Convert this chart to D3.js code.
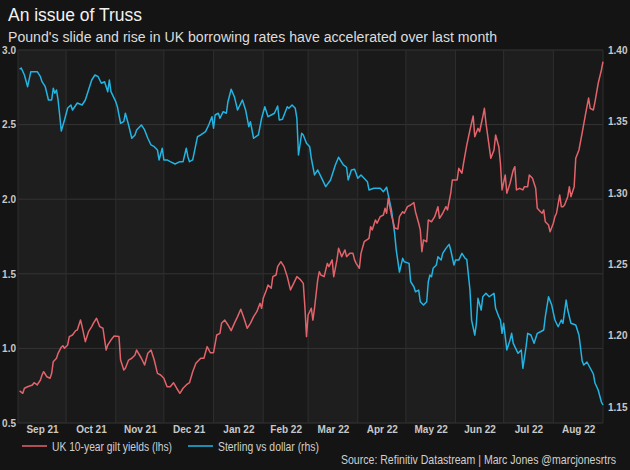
<!DOCTYPE html>
<html><head><meta charset="utf-8">
<script src="https://cdn.jsdelivr.net/npm/d3@7"></script>
<style>
html,body{margin:0;padding:0;background:#141414;}
svg{display:block;font-family:"Liberation Sans",Arial,sans-serif;}
</style></head>
<body><svg id="c" width="630" height="470"></svg>
<script>
const title = "An issue of Truss";
const subtitle = "Pound's slide and rise in UK borrowing rates have accelerated over last month";
const source = "Source: Refinitiv Datastream | Marc Jones @marcjonesrtrs";
const seriesNames = ["UK 10-year gilt yields (lhs)", "Sterling vs dollar (rhs)"];
const leftTicks = [0.5, 1.0, 1.5, 2.0, 2.5, 3.0];
const rightTicks = [1.15, 1.20, 1.25, 1.30, 1.35, 1.40];
const monthStarts = ["2021-09-01","2021-10-01","2021-11-01","2021-12-01","2022-01-01","2022-02-01","2022-03-01","2022-04-01","2022-05-01","2022-06-01","2022-07-01","2022-08-01","2022-09-01"];

const giltDates = ["2021-09-02","2021-09-04","2021-09-05","2021-09-07","2021-09-10","2021-09-11","2021-09-13","2021-09-15","2021-09-16","2021-09-17","2021-09-19","2021-09-21","2021-09-22","2021-09-23","2021-09-25","2021-09-26","2021-09-28","2021-09-29","2021-09-30",
"2021-10-02","2021-10-03","2021-10-05","2021-10-07","2021-10-08","2021-10-10","2021-10-11","2021-10-13","2021-10-15","2021-10-17","2021-10-18","2021-10-20","2021-10-22","2021-10-24","2021-10-26","2021-10-27","2021-10-29","2021-10-31",
"2021-11-03","2021-11-04","2021-11-06","2021-11-07","2021-11-09","2021-11-11","2021-11-13","2021-11-14","2021-11-17","2021-11-19","2021-11-21","2021-11-23","2021-11-25","2021-11-27","2021-11-29",
"2021-12-01","2021-12-03","2021-12-05","2021-12-07","2021-12-09","2021-12-11","2021-12-13","2021-12-15","2021-12-17","2021-12-19","2021-12-21","2021-12-24","2021-12-26","2021-12-28","2021-12-30",
"2022-01-01","2022-01-03","2022-01-05","2022-01-06","2022-01-08","2022-01-10","2022-01-12","2022-01-14","2022-01-16","2022-01-18","2022-01-20","2022-01-22","2022-01-24","2022-01-26","2022-01-28","2022-01-30","2022-01-31",
"2022-02-01","2022-02-03","2022-02-04","2022-02-06","2022-02-07","2022-02-09","2022-02-10","2022-02-12","2022-02-14","2022-02-16","2022-02-18","2022-02-20","2022-02-22","2022-02-24","2022-02-26","2022-02-27","2022-02-28",
"2022-03-01","2022-03-03","2022-03-04","2022-03-05","2022-03-07","2022-03-08","2022-03-09","2022-03-11","2022-03-13","2022-03-14","2022-03-16","2022-03-17","2022-03-19","2022-03-20","2022-03-22","2022-03-24","2022-03-25","2022-03-27","2022-03-29","2022-03-30","2022-03-31",
"2022-04-02","2022-04-03","2022-04-05","2022-04-08","2022-04-09","2022-04-10","2022-04-12","2022-04-13","2022-04-15","2022-04-17","2022-04-18","2022-04-19","2022-04-20","2022-04-22","2022-04-24","2022-04-26","2022-04-27","2022-04-29","2022-04-30",
"2022-05-02","2022-05-04","2022-05-06","2022-05-07","2022-05-09","2022-05-10","2022-05-11","2022-05-12","2022-05-14","2022-05-15","2022-05-17","2022-05-19","2022-05-21","2022-05-22","2022-05-24","2022-05-26","2022-05-27","2022-05-29","2022-05-30",
"2022-06-02","2022-06-03","2022-06-05","2022-06-06","2022-06-08","2022-06-10","2022-06-12","2022-06-13","2022-06-15","2022-06-16","2022-06-18","2022-06-19","2022-06-20","2022-06-22","2022-06-23","2022-06-25","2022-06-26","2022-06-28","2022-06-29","2022-06-30",
"2022-07-02","2022-07-03","2022-07-05","2022-07-07","2022-07-08","2022-07-09","2022-07-11","2022-07-13","2022-07-14","2022-07-16","2022-07-17","2022-07-19","2022-07-21","2022-07-22","2022-07-24","2022-07-25","2022-07-26","2022-07-27","2022-07-29","2022-07-30",
"2022-08-01","2022-08-02","2022-08-03","2022-08-05","2022-08-06","2022-08-07","2022-08-08","2022-08-10","2022-08-11","2022-08-12","2022-08-14","2022-08-15","2022-08-17","2022-08-19","2022-08-21","2022-08-23","2022-08-24","2022-08-26","2022-08-27","2022-08-29","2022-08-31","2022-09-01"];
const giltValues = [0.715,0.699,0.733,0.743,0.755,0.770,0.755,0.788,0.822,0.844,0.810,0.800,0.833,0.911,0.934,0.967,1.008,1.018,1.001,
1.023,1.079,1.090,1.119,1.123,1.190,1.146,1.045,1.112,1.146,1.168,1.202,1.146,1.135,0.989,1.023,1.056,1.083,
1.079,0.922,0.855,0.867,0.922,0.934,0.956,0.989,0.934,0.889,0.967,0.989,0.922,0.833,0.822,
0.800,0.743,0.743,0.770,0.733,0.699,0.733,0.755,0.770,0.844,0.900,0.934,0.934,1.012,0.971,
0.971,1.090,1.101,1.168,1.190,1.157,1.119,1.168,1.213,1.262,1.202,1.135,1.168,1.213,1.246,1.302,1.269,
1.336,1.392,1.425,1.403,1.481,1.492,1.548,1.581,1.548,1.481,1.392,1.436,1.481,1.463,1.436,1.280,1.079,
1.224,1.269,1.190,1.269,1.459,1.514,1.492,1.481,1.570,1.548,1.593,1.481,1.593,1.671,1.615,1.660,1.615,1.637,1.637,1.593,1.570,
1.537,1.637,1.715,1.738,1.816,1.794,1.861,1.839,1.883,1.894,1.939,1.906,2.006,1.894,1.807,1.800,1.883,1.916,1.906,
1.950,1.961,1.977,1.916,1.839,1.794,1.648,1.727,1.715,1.861,1.849,1.883,1.950,1.872,1.906,1.950,1.928,2.040,2.129,
2.129,2.207,2.174,2.241,2.363,2.464,2.558,2.419,2.475,2.452,2.553,2.609,2.509,2.352,2.274,2.330,2.430,2.352,2.241,2.062,
2.162,2.040,2.107,2.196,2.218,2.062,2.073,2.062,2.084,2.084,2.162,2.140,2.073,1.939,1.916,1.906,1.928,1.849,1.827,1.782,
1.839,1.883,1.906,2.028,1.950,1.950,1.961,2.017,2.084,2.017,2.084,2.274,2.330,2.444,2.564,2.678,2.609,2.598,2.653,2.777,2.866,2.922];

const gbpDates = ["2021-09-02","2021-09-03","2021-09-05","2021-09-07","2021-09-09","2021-09-13","2021-09-15","2021-09-16","2021-09-18","2021-09-19","2021-09-20","2021-09-22","2021-09-23","2021-09-24","2021-09-25","2021-09-26","2021-09-27","2021-09-28","2021-09-30",
"2021-10-02","2021-10-04","2021-10-05","2021-10-08","2021-10-11","2021-10-13","2021-10-15","2021-10-17","2021-10-19","2021-10-21","2021-10-23","2021-10-25","2021-10-27","2021-10-28","2021-10-29",
"2021-11-01","2021-11-02","2021-11-04","2021-11-06","2021-11-07","2021-11-09","2021-11-11","2021-11-13","2021-11-14","2021-11-17","2021-11-19","2021-11-21","2021-11-23","2021-11-25","2021-11-27","2021-11-28","2021-11-30",
"2021-12-01","2021-12-03","2021-12-05","2021-12-08","2021-12-11","2021-12-13","2021-12-15","2021-12-16","2021-12-17","2021-12-19","2021-12-22","2021-12-24","2021-12-27","2021-12-29","2021-12-31",
"2022-01-01","2022-01-02","2022-01-04","2022-01-05","2022-01-07","2022-01-09","2022-01-10","2022-01-12","2022-01-14","2022-01-16","2022-01-19","2022-01-21","2022-01-23","2022-01-24","2022-01-26","2022-01-29","2022-01-31",
"2022-02-02","2022-02-04","2022-02-06","2022-02-08","2022-02-10","2022-02-11","2022-02-13","2022-02-16","2022-02-17","2022-02-19","2022-02-21","2022-02-22","2022-02-23","2022-02-25","2022-02-26","2022-02-28",
"2022-03-02","2022-03-03","2022-03-05","2022-03-07","2022-03-09","2022-03-12","2022-03-15","2022-03-17","2022-03-18","2022-03-20","2022-03-23","2022-03-25","2022-03-26","2022-03-28","2022-03-30",
"2022-04-01","2022-04-03","2022-04-07","2022-04-08","2022-04-11","2022-04-15","2022-04-17","2022-04-19","2022-04-20","2022-04-22","2022-04-24","2022-04-25","2022-04-27","2022-04-29","2022-04-30",
"2022-05-03","2022-05-04","2022-05-06","2022-05-07","2022-05-09","2022-05-10","2022-05-12","2022-05-14","2022-05-15","2022-05-16","2022-05-17","2022-05-18","2022-05-20","2022-05-21","2022-05-23","2022-05-24","2022-05-26","2022-05-28","2022-05-29","2022-05-31",
"2022-06-01","2022-06-03","2022-06-05","2022-06-07","2022-06-08","2022-06-10","2022-06-11","2022-06-13","2022-06-14","2022-06-15","2022-06-17","2022-06-18","2022-06-20","2022-06-22","2022-06-25","2022-06-26","2022-06-28","2022-06-29","2022-06-30",
"2022-07-01","2022-07-03","2022-07-05","2022-07-06","2022-07-07","2022-07-10","2022-07-12","2022-07-13","2022-07-15","2022-07-16","2022-07-18","2022-07-20","2022-07-22","2022-07-24","2022-07-26","2022-07-27","2022-07-29","2022-07-31",
"2022-08-02","2022-08-04","2022-08-06","2022-08-07","2022-08-09","2022-08-10","2022-08-12","2022-08-15","2022-08-17","2022-08-19","2022-08-20","2022-08-22","2022-08-24","2022-08-26","2022-08-27","2022-08-29","2022-08-30","2022-08-31","2022-09-01"];
const gbpValues = [1.3865,1.3874,1.3825,1.3743,1.3848,1.3848,1.3813,1.3778,1.3743,1.3697,1.3650,1.3650,1.3732,1.3697,1.3720,1.3650,1.3545,1.3433,1.3510,
1.3594,1.3615,1.3580,1.3629,1.3615,1.3650,1.3720,1.3790,1.3825,1.3813,1.3767,1.3778,1.3708,1.3790,1.3708,
1.3638,1.3603,1.3487,1.3498,1.3557,1.3475,1.3382,1.3405,1.3440,1.3475,1.3440,1.3382,1.3335,1.3323,1.3300,1.3230,1.3312,
1.3230,1.3230,1.3218,1.3202,1.3218,1.3218,1.3312,1.3253,1.3218,1.3230,1.3393,1.3405,1.3428,1.3475,1.3533,
1.3452,1.3545,1.3557,1.3522,1.3568,1.3557,1.3638,1.3725,1.3673,1.3580,1.3650,1.3580,1.3463,1.3498,1.3382,1.3405,1.3522,
1.3603,1.3533,1.3545,1.3557,1.3608,1.3510,1.3515,1.3603,1.3592,1.3615,1.3592,1.3522,1.3265,1.3417,1.3405,1.3347,
1.3323,1.3242,1.3125,1.3160,1.3113,1.3043,1.3090,1.3160,1.3195,1.3249,1.3195,1.3179,1.3090,1.3160,1.3165,
1.3102,1.3125,1.3078,1.3020,1.3032,1.3032,1.3008,1.3039,1.2985,1.2880,1.2716,1.2599,1.2445,1.2541,1.2517,
1.2506,1.2377,1.2342,1.2307,1.2319,1.2237,1.2214,1.2237,1.2377,1.2424,1.2412,1.2471,1.2494,1.2552,1.2529,1.2576,1.2611,1.2639,1.2599,1.2494,
1.2529,1.2529,1.2576,1.2541,1.2534,1.2319,1.2109,1.2004,1.2086,1.2261,1.2179,1.2272,1.2296,1.2272,1.2296,1.2191,1.2132,1.2109,1.2016,
1.2086,1.1899,1.1969,1.2016,1.1946,1.1876,1.1899,1.1771,1.1922,1.2016,1.2004,1.1946,1.2016,1.2027,1.2039,1.2132,1.2272,1.2214,
1.2109,1.2062,1.2109,1.2086,1.2249,1.2179,1.2086,1.2074,1.2004,1.1822,1.1794,1.1815,1.1773,1.1731,1.1668,1.1619,1.1577,1.1535,1.1514];

const colors = {gilt: "#e3636b", gbp: "#22b4e2"};
const parse = d3.timeParse("%Y-%m-%d");
const svg = d3.select("#c");
const L = 18, R = 603, T = 50, B = 423;

const x = d3.scaleTime().domain([parse(monthStarts[0]), parse(monthStarts[monthStarts.length-1])]).range([L, R]);
const yL = d3.scaleLinear().domain([0.5, 3.0]).range([B, T]);
const yR = d3.scaleLinear().domain([1.15, 1.40]).range([407, T]);

// month bands
const months = monthStarts.map(parse);
svg.append("g").selectAll("rect").data(months.slice(0, -1)).join("rect")
  .attr("x", d => x(d)).attr("y", T)
  .attr("width", (d, i) => x(months[i+1]) - x(d)).attr("height", B - T)
  .attr("fill", (d, i) => i % 2 === 0 ? "#1e1e1e" : "#191919");

// horizontal grid
svg.append("g").selectAll("line").data(leftTicks).join("line")
  .attr("x1", L).attr("x2", R).attr("y1", d => yL(d)).attr("y2", d => yL(d))
  .attr("stroke", "#343434").attr("stroke-width", 1);
// vertical grid
svg.append("g").selectAll("line").data(months).join("line")
  .attr("x1", d => x(d)).attr("x2", d => x(d)).attr("y1", T).attr("y2", B)
  .attr("stroke", "#2f2f2f").attr("stroke-width", 1);

// axes
const axL = d3.axisLeft(yL).tickValues(leftTicks).tickFormat(d3.format(".1f")).tickSize(0).tickPadding(2);
svg.append("g").attr("transform", `translate(${L},0)`).call(axL)
  .call(g => g.select(".domain").remove())
  .selectAll("text").attr("fill", "#c8c8c8").style("font-size", "10px").style("font-weight", "bold");
const axR = d3.axisRight(yR).tickValues(rightTicks).tickFormat(d3.format(".2f")).tickSize(0).tickPadding(5);
svg.append("g").attr("transform", `translate(${R},0)`).call(axR)
  .call(g => g.select(".domain").remove())
  .selectAll("text").attr("fill", "#c8c8c8").style("font-size", "10px").style("font-weight", "bold");
const mids = months.slice(0, -1).map((d, i) => new Date((+d + +months[i+1]) / 2));
const axB = d3.axisBottom(x).tickValues(mids).tickFormat(d3.timeFormat("%b %y")).tickSize(0).tickPadding(3);
svg.append("g").attr("transform", `translate(0,${B})`).call(axB)
  .call(g => g.select(".domain").remove())
  .selectAll("text").attr("fill", "#c8c8c8").style("font-size", "10px").style("font-weight", "bold");

// lines
svg.append("clipPath").attr("id", "clip").append("rect").attr("x", L).attr("y", T - 2).attr("width", R - L + 1).attr("height", B - T + 2);
const gilt = giltDates.map((d, i) => ({d: parse(d), v: giltValues[i]}));
const gbp = gbpDates.map((d, i) => ({d: parse(d), v: gbpValues[i]}));
const plot = svg.append("g").attr("clip-path", "url(#clip)");
plot.append("path").datum(gbp).attr("fill", "none").attr("stroke", colors.gbp).attr("stroke-width", 1.5)
  .attr("stroke-linejoin", "round").attr("d", d3.line().x(p => x(p.d)).y(p => yR(p.v)));
plot.append("path").datum(gilt).attr("fill", "none").attr("stroke", colors.gilt).attr("stroke-width", 1.5)
  .attr("stroke-linejoin", "round").attr("d", d3.line().x(p => x(p.d)).y(p => yL(p.v)));

// titles
svg.append("text").attr("x", 8).attr("y", 21).text(title).attr("fill", "#f2f2f2").style("font-size", "18px")
  .attr("textLength", 134).attr("lengthAdjust", "spacingAndGlyphs");
svg.append("text").attr("x", 8).attr("y", 42).text(subtitle).attr("fill", "#dcdcdc").style("font-size", "14px")
  .attr("textLength", 489).attr("lengthAdjust", "spacingAndGlyphs");

// legend
const leg = [{n: seriesNames[0], c: colors.gilt, x: 22, w: 120}, {n: seriesNames[1], c: colors.gbp, x: 188, w: 101}];
const lg = svg.append("g").selectAll("g").data(leg).join("g").attr("transform", d => `translate(${d.x},446)`);
lg.append("line").attr("x1", 0).attr("x2", 25).attr("stroke", d => d.c).attr("stroke-width", 1.5);
lg.append("text").attr("x", 30).attr("y", 4.5).text(d => d.n).attr("fill", "#cfcfcf").style("font-size", "13px")
  .attr("textLength", d => d.w).attr("lengthAdjust", "spacingAndGlyphs");

// source (horizontally condensed to match the narrow face of the original)
svg.append("g").attr("transform", "translate(616,464) scale(0.88,1)")
  .append("text").attr("x", 0).attr("y", 0).attr("text-anchor", "end").text(source)
  .attr("fill", "#cfcfcf").style("font-size", "12px");
</script></body></html>
